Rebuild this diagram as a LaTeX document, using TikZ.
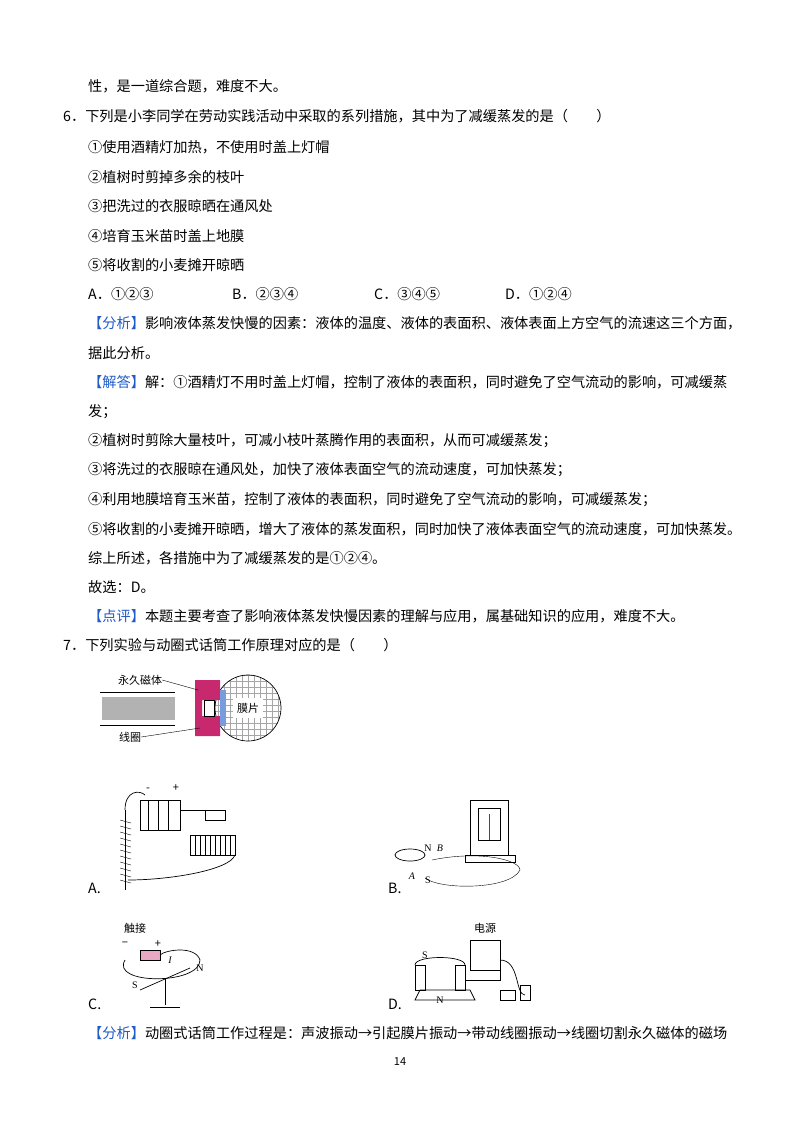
\documentclass[tikz,border=0pt]{standalone}
\usepackage{fontspec}
\setmainfont{Noto Sans CJK SC}
\newfontfamily\lat{Liberation Serif}
\definecolor{bl}{RGB}{30,90,200}
\definecolor{mag}{RGB}{200,40,110}
\begin{document}
\begin{tikzpicture}[x=1pt,y=-1pt,
 t/.style={anchor=west,inner sep=0pt,font=\fontsize{14.2}{15}\selectfont},
 lb/.style={inner sep=0pt,font=\fontsize{11}{12}\selectfont},
 fig/.style={line width=0.7pt}]
\useasboundingbox[fill=white] (0,0) rectangle (800,1132);
\node[t] (l0) at (88,86) {性，是一道综合题，难度不大。};
\node[t] (l1) at (63,116) {6．下列是小李同学在劳动实践活动中采取的系列措施，其中为了减缓蒸发的是（　　）};
\node[t] (l2) at (88,147) {①使用酒精灯加热，不使用时盖上灯帽};
\node[t] (l3) at (88,177) {②植树时剪掉多余的枝叶};
\node[t] (l4) at (88,206) {③把洗过的衣服晾晒在通风处};
\node[t] (l5) at (88,236) {④培育玉米苗时盖上地膜};
\node[t] (l6) at (88,265) {⑤将收割的小麦摊开晾晒};
\node[t] (oa) at (88,294) {A．①②③};
\node[t] (ob) at (232,294) {B．②③④};
\node[t] (oc) at (374,294) {C．③④⑤};
\node[t] (od) at (505,294) {D．①②④};
\node[t] (a1) at (88,323) {\textcolor{bl}{【分析】}影响液体蒸发快慢的因素：液体的温度、液体的表面积、液体表面上方空气的流速这三个方面，};
\node[t] (a2) at (88,353) {据此分析。};
\node[t] (s1) at (88,382) {\textcolor{bl}{【解答】}解：①酒精灯不用时盖上灯帽，控制了液体的表面积，同时避免了空气流动的影响，可减缓蒸};
\node[t] (s2) at (88,412) {发；};
\node[t] (s3) at (88,441) {②植树时剪除大量枝叶，可减小枝叶蒸腾作用的表面积，从而可减缓蒸发；};
\node[t] (s4) at (88,470) {③将洗过的衣服晾在通风处，加快了液体表面空气的流动速度，可加快蒸发；};
\node[t] (s5) at (88,500) {④利用地膜培育玉米苗，控制了液体的表面积，同时避免了空气流动的影响，可减缓蒸发；};
\node[t] (s6) at (88,529) {⑤将收割的小麦摊开晾晒，增大了液体的蒸发面积，同时加快了液体表面空气的流动速度，可加快蒸发。};
\node[t] (s7) at (88,558) {综上所述，各措施中为了减缓蒸发的是①②④。};
\node[t] (s8) at (88,587) {故选：D。};
\node[t] (p1) at (88,616) {\textcolor{bl}{【点评】}本题主要考查了影响液体蒸发快慢因素的理解与应用，属基础知识的应用，难度不大。};
\node[t] (q7) at (63,645) {7．下列实验与动圈式话筒工作原理对应的是（　　）};
% microphone
\draw[fig] (100,692) -- (175,692) (100,725) -- (175,725);
\fill[gray!60] (102,697) rectangle (175,720);
\begin{scope}
\clip (248,708) circle (33);
\foreach \a in {0,6,...,66}{\draw[gray!70,line width=0.3pt] (210,\a+675)--(285,\a+675);}
\foreach \a in {0,6,...,66}{\draw[gray!70,line width=0.3pt] (\a+212,670)--(\a+212,745);}
\end{scope}
\draw[fig] (248,708) circle (33);
\fill[mag] (195,680) rectangle (220,700) (195,716) rectangle (220,736) (195,698) rectangle (202,718);
\fill[bl!60] (220,690) rectangle (226,726);
\draw[fig,fill=white] (204,700) rectangle (214,716);
\fill[white] (233,698) rectangle (263,718);
\node[lb] (mp) at (248,708) {膜片};
\node[lb] (yc) at (140,680) {永久磁体};
\node[lb] (xq) at (130,737) {线圈};
\draw (yc.east) -- (198,690);
\draw (xq.east) -- (200,728);
% A
\node[t] (la) at (88,888) {A.};
\draw[fig] (140,800) rectangle (180,830);
\foreach \i in {148,158,168}{\draw (\i,800)--(\i,830);}
\node[lb] at (148,790) {-};\node[lb] at (176,788) {+};
\draw[fig] (125,810) .. controls (125,790) and (140,790) .. (145,795);
\draw[fig] (180,810) -- (205,810) rectangle (225,820);
\draw[fig] (190,835) rectangle (235,855);
\foreach \i in {195,200,...,230}{\draw (\i,835)--(\i,855);}
\draw[fig] (125,810) -- (125,890);
\foreach \i in {820,826,...,885}{\draw (120,\i)--(131,\i+3);}
\draw[fig] (128,880) .. controls (170,880) and (230,870) .. (235,855);
% B
\node[t] (lb2) at (388,888) {B.};
\draw[fig] (470,800) rectangle (508,855);
\draw[fig] (478,808) rectangle (500,840);
\draw[red,line width=1pt] (489,840) -- (489,814);
\draw[fig] (465,855) -- (515,855) -- (515,862) -- (465,862) -- cycle;
\draw[fig] (410,855) ellipse (15 and 6);
\draw (432,860) .. controls (480,850) and (520,860) .. (520,870) .. controls (510,890) and (440,890) .. (425,878);
\node[lb,font=\lat\itshape] at (440,848) {B};
\node[lb,font=\lat] at (428,848) {N};
\node[lb,font=\lat] at (428,880) {S};
\node[lb,font=\lat\itshape] at (412,876) {A};
% C
\node[t] (lc) at (88,1004) {C.};
\node[lb] (cj) at (135,928) {触接};
\node[lb] at (125,944) {−};\node[lb] at (158,944) {+};
\draw[fig,fill=mag!40] (140,950) rectangle (160,960);
\draw[fig] (125,960) .. controls (110,985) and (200,985) .. (200,960) .. controls (195,945) and (165,950) .. (160,955);
\node[lb,font=\lat\itshape] at (170,960) {I};
\draw[fig] (140,990) -- (190,968);
\node[lb,font=\lat] at (135,985) {S};\node[lb,font=\lat] at (200,968) {N};
\draw[fig] (165,978) -- (165,1005) (150,1007) -- (180,1007);
% D
\node[t] (ld) at (388,1004) {D.};
\node[lb] (dy) at (485,928) {电源};
\draw[fig] (470,940) rectangle (500,970);
\draw[fig] (420,990) -- (470,990) -- (475,1000) -- (415,1000) -- cycle;
\draw[fig] (415,965) rectangle (425,990) (455,965) rectangle (465,990);
\draw[fig] (415,965) .. controls (415,955) and (465,955) .. (465,965);
\node[lb,font=\lat] at (425,955) {S};\node[lb,font=\lat] at (440,1000) {N};
\draw[fig] (465,980) -- (500,980) -- (500,970);
\draw[fig] (500,960) .. controls (520,960) and (515,995) .. (525,995);
\draw[fig] (500,990) rectangle (515,1000) (520,985) rectangle (530,1000);
% bottom
\node[t] (b1) at (88,1033) {\textcolor{bl}{【分析】}动圈式话筒工作过程是：声波振动→引起膜片振动→带动线圈振动→线圈切割永久磁体的磁场};
\node[inner sep=0pt,font=\fontsize{11}{12}\selectfont] (pg) at (400,1062) {14};
\end{tikzpicture}
\end{document}
